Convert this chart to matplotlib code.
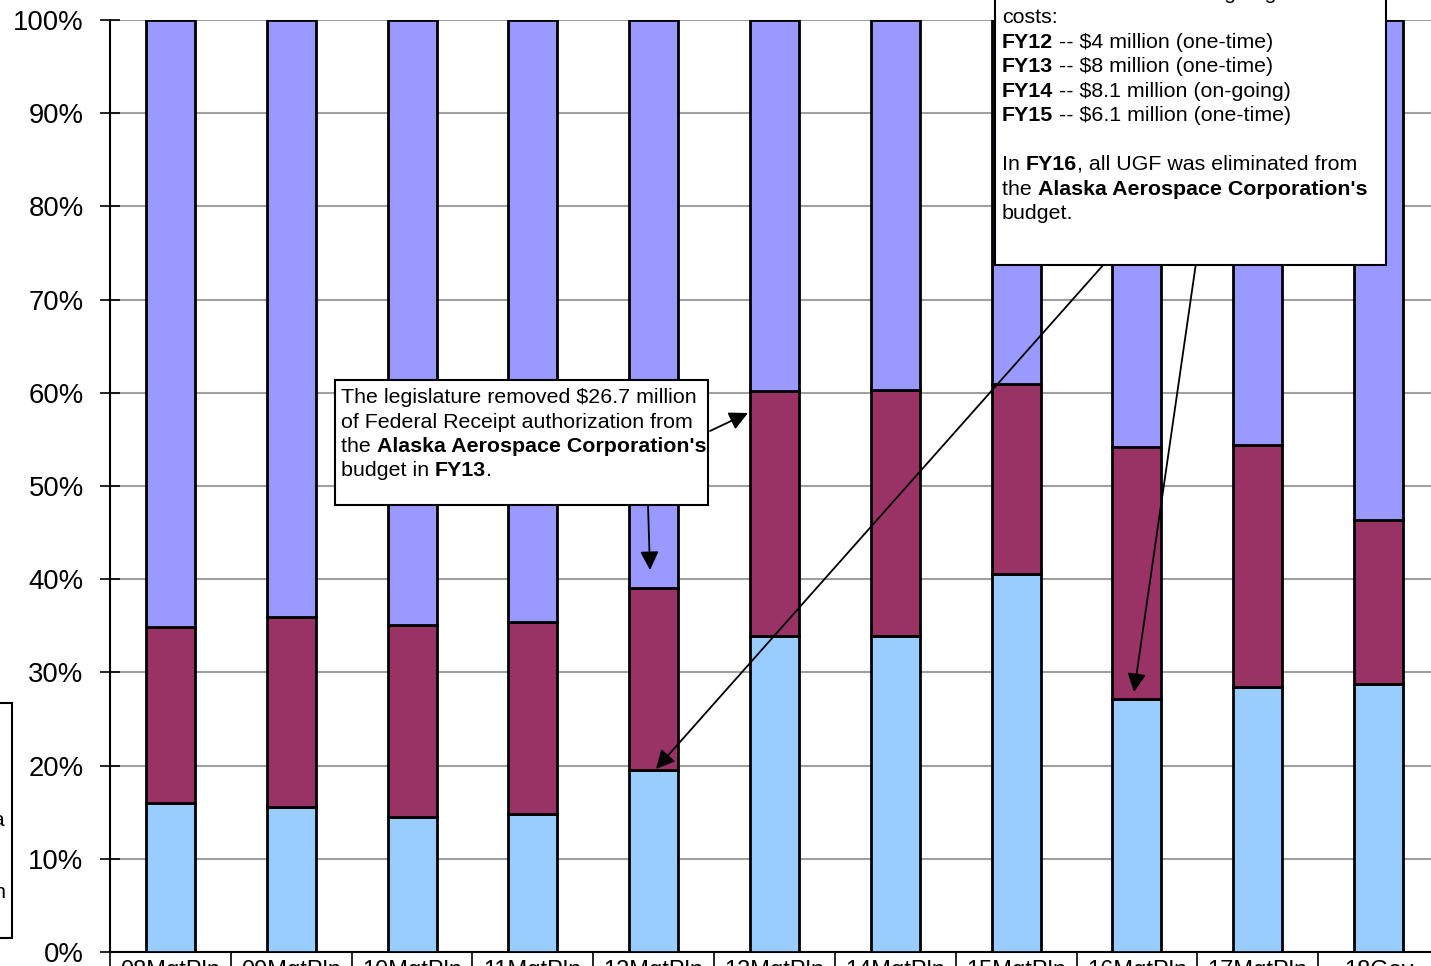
import matplotlib
matplotlib.use("Agg")
import matplotlib.pyplot as plt
from matplotlib.patches import Rectangle
from matplotlib.text import Annotation
import numpy as np

plt.rcParams['font.family'] = ['Liberation Sans', 'DejaVu Sans']

categories = ["08MgtPln", "09MgtPln", "10MgtPln", "11MgtPln", "12MgtPln", "13MgtPln",
              "14MgtPln", "15MgtPln", "16MgtPln", "17MgtPln", "18Gov"]
# percent shares of each series (bottom to top)
general_funds = [16.0, 15.6, 14.5, 14.8, 19.5, 33.9, 33.9, 40.6, 27.1, 28.4, 28.8]
other_funds   = [18.9, 20.3, 20.6, 20.6, 19.6, 26.3, 26.4, 20.3, 27.1, 26.0, 17.6]
federal_funds = [65.1, 64.1, 64.9, 64.6, 60.9, 39.8, 39.7, 39.1, 45.8, 45.6, 53.6]
series_names = ["General Funds", "Other Funds", "Federal Receipts"]
series_colors = ["#99CCFF", "#993366", "#9999FF"]
y_ticks = [0, 10, 20, 30, 40, 50, 60, 70, 80, 90, 100]

W, H = 1431, 966
fig = plt.figure(figsize=(W / 100, H / 100), dpi=100)
ax = fig.add_axes([110 / W, (H - 952) / H, (1439 - 110) / W, (952 - 20) / H])

x = np.arange(len(categories))
bottom = np.zeros(len(categories))
for vals, name, col in zip([general_funds, other_funds, federal_funds], series_names, series_colors):
    ax.bar(x, vals, width=0.405, bottom=bottom, color=col, edgecolor='black',
           linewidth=2.0, label=name, zorder=3)
    bottom = bottom + np.array(vals)

ax.set_xlim(-0.5, len(categories) - 0.5)
ax.set_ylim(0, 100)
ax.set_yticks(y_ticks)
ax.set_yticklabels([f"{v}%" for v in y_ticks], fontsize=19.8)
ax.yaxis.grid(True, color='#A0A0A0', linewidth=1.5, zorder=0)
ax.tick_params(axis='y', direction='inout', length=14, width=1.2, pad=12)
ax.set_xticks(x)
ax.set_xticklabels(categories, fontsize=17)
ax.set_xticks(np.arange(-0.5, len(categories), 1.0), minor=True)
ax.tick_params(axis='x', which='major', length=0, pad=6)
ax.tick_params(axis='x', which='minor', direction='out', length=30, width=1.2)
for s in ['top', 'right']:
    ax.spines[s].set_visible(False)
ax.spines['left'].set_linewidth(1.5)
ax.spines['bottom'].set_linewidth(1.5)


def fx(px):
    return px / W


def fy(py):
    return 1 - py / H


def chain_text(xp, yp, segments, fs=15.4):
    prev = None
    for s, bold in segments:
        w = 'bold' if bold else 'normal'
        if prev is None:
            prev = fig.text(fx(xp), fy(yp), s, fontsize=fs, fontweight=w, va='bottom', ha='left', zorder=12)
        else:
            a = Annotation(s, xy=(1, 0), xycoords=prev, va='bottom', ha='left', fontsize=fs,
                           fontweight=w, annotation_clip=False)
            a.set_zorder(12)
            fig.add_artist(a)
            prev = a


# Box 1
fig.patches.append(Rectangle((fx(335), fy(505)), (708 - 335) / W, (505 - 380) / H,
                             transform=fig.transFigure, facecolor='white', edgecolor='black',
                             linewidth=1.5, zorder=10, figure=fig))
box1 = [
    [("The legislature removed $26.7 million", False)],
    [("of Federal Receipt authorization from", False)],
    [("the ", False), ("Alaska Aerospace Corporation's", True)],
    [("budget in ", False), ("FY13", True), (".", False)],
]
for i, line in enumerate(box1):
    chain_text(341, 407 + i * 24.5, line)

# Box 2
fig.patches.append(Rectangle((fx(995), fy(265)), (1386 - 995) / W, (265 + 20) / H,
                             transform=fig.transFigure, facecolor='white', edgecolor='black',
                             linewidth=1.5, zorder=10, figure=fig))
box2 = [
    (3, [("UGF was added for on-going maintenance and operation", False)]),
    (27, [("costs:", False)]),
    (52, [("FY12", True), (" -- $4 million (one-time)", False)]),
    (76, [("FY13", True), (" -- $8 million (one-time)", False)]),
    (101, [("FY14", True), (" -- $8.1 million (on-going)", False)]),
    (125, [("FY15", True), (" -- $6.1 million (one-time)", False)]),
    (174, [("In ", False), ("FY16", True), (", all UGF was eliminated from", False)]),
    (199, [("the ", False), ("Alaska Aerospace Corporation's", True)]),
    (223, [("budget.", False)]),
]
for yy, line in box2:
    chain_text(1002, yy, line)

# Left partial box
fig.patches.append(Rectangle((fx(-20), fy(938)), 32 / W, (938 - 703) / H,
                             transform=fig.transFigure, facecolor='white', edgecolor='black',
                             linewidth=1.5, zorder=10, figure=fig))
fig.text(fx(6), fy(820), "Alaska", fontsize=15, ha='right', va='center', zorder=12)
fig.text(fx(6), fy(893), "Corporation", fontsize=15, ha='right', va='center', zorder=12)

# Arrows
arrows = [((710, 431), (748, 413)), ((648, 505), (650, 570)),
          ((1105, 263), (656, 769)), ((1196, 263), (1134, 692))]
for (x0, y0), (x1, y1) in arrows:
    ax.annotate("", xy=(x1, H - y1), xycoords='figure pixels',
                xytext=(x0, H - y0), textcoords='figure pixels',
                arrowprops=dict(arrowstyle='-|>', color='black', lw=1.3, mutation_scale=28,
                                shrinkA=0, shrinkB=0), zorder=11, annotation_clip=False)

fig.savefig("out.png", dpi=100)
